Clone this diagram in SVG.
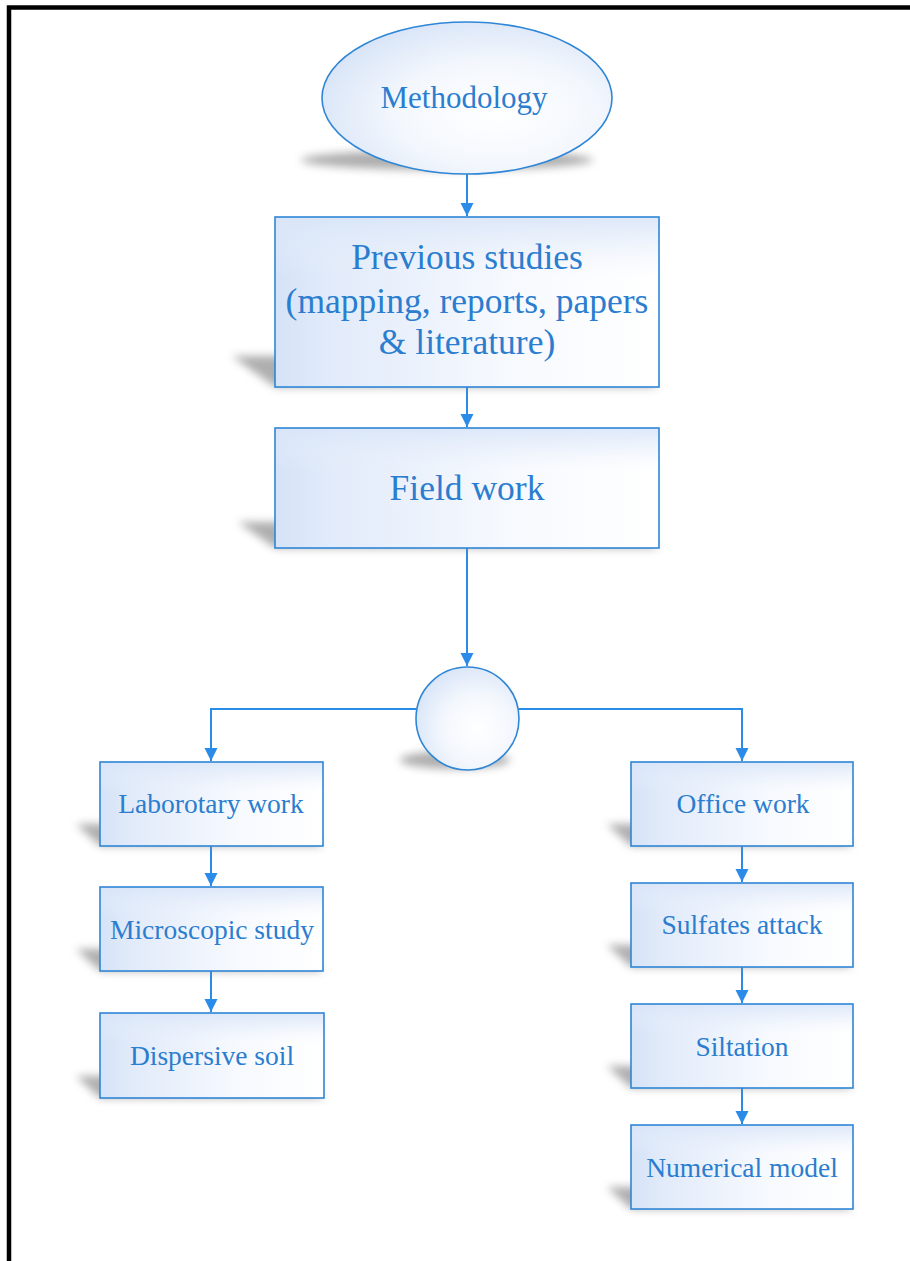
<svg xmlns="http://www.w3.org/2000/svg" width="910" height="1261" viewBox="0 0 910 1261">
<style>
.box{stroke:#2f86d6;stroke-width:1.6;}
.gh{fill:url(#gh);}
.gv{fill:url(#gv);}
.sh{fill:#8c8c8c;opacity:0.7;filter:url(#blur);}
.t{font-family:"Liberation Serif","Times New Roman",serif;fill:#2a7dcf;text-anchor:middle;}
.big{font-size:35.5px;}
.mid{font-size:31px;}
.sm{font-size:27.5px;}
.con{fill:none;stroke:#2b8be8;stroke-width:2;marker-end:url(#arr);}
</style>
<defs>
<linearGradient id="gh" x1="0" y1="0" x2="1" y2="0">
<stop offset="0" stop-color="#d5e3f7"/>
<stop offset="0.15" stop-color="#e2ebfa"/>
<stop offset="0.6" stop-color="#f6f9fe"/>
<stop offset="1" stop-color="#ffffff"/>
</linearGradient>
<linearGradient id="gv" x1="0" y1="0" x2="0" y2="1">
<stop offset="0" stop-color="#d9e5f8" stop-opacity="0.9"/>
<stop offset="0.35" stop-color="#e9f0fb" stop-opacity="0"/>
</linearGradient>
<radialGradient id="gr" cx="0.6" cy="0.6" r="0.7">
<stop offset="0" stop-color="#ffffff"/>
<stop offset="0.5" stop-color="#f3f7fd"/>
<stop offset="1" stop-color="#d3e1f6"/>
</radialGradient>
<filter id="blur" x="-20%" y="-60%" width="140%" height="220%">
<feGaussianBlur stdDeviation="4.5"/>
</filter>
<marker id="arr" markerUnits="userSpaceOnUse" markerWidth="14" markerHeight="14" refX="13" refY="6.5" orient="auto">
<path d="M0,0 L13,6.5 L0,13 z" fill="#2b8be8"/>
</marker>
</defs>

<path d="M9,1261 V7.5 H910" fill="none" stroke="#000" stroke-width="4.5"/>

<g id="connectors">
<line class="con" x1="467" y1="174" x2="467" y2="216"/>
<line class="con" x1="467" y1="387" x2="467" y2="427"/>
<line class="con" x1="467" y1="548" x2="467" y2="666"/>
<polyline class="con" points="416,709 211,709 211,761"/>
<polyline class="con" points="519,709 742,709 742,761"/>
<line class="con" x1="211" y1="846" x2="211" y2="886"/>
<line class="con" x1="211" y1="971" x2="211" y2="1012"/>
<line class="con" x1="742" y1="846" x2="742" y2="882"/>
<line class="con" x1="742" y1="967" x2="742" y2="1003"/>
<line class="con" x1="742" y1="1088" x2="742" y2="1124"/>
</g>

<g id="methodology">
<ellipse class="sh" cx="447" cy="160" rx="146" ry="10"/>
<ellipse cx="467" cy="98" rx="145" ry="76" fill="url(#gr)" class="box"/>
<text class="t mid" x="464" y="108">Methodology</text>
</g>

<g id="previous-studies">
<polygon class="sh" points="232,356 614,356 659,387 275,387"/>
<rect x="275" y="217" width="384" height="170" class="gh"/>
<rect x="275" y="217" width="384" height="170" class="gv"/>
<rect x="275" y="217" width="384" height="170" fill="none" class="box"/>
<text class="t big" x="467" y="269">Previous studies</text>
<text class="t big" x="467" y="313">(mapping, reports, papers</text>
<text class="t big" x="467" y="354">&amp; literature)</text>
</g>

<g id="field-work">
<polygon class="sh" points="238,522 622,522 659,548 275,548"/>
<rect x="275" y="428" width="384" height="120" class="gh"/>
<rect x="275" y="428" width="384" height="120" class="gv"/>
<rect x="275" y="428" width="384" height="120" fill="none" class="box"/>
<text class="t big" x="467" y="500">Field work</text>
</g>

<g id="junction">
<ellipse class="sh" cx="455" cy="760" rx="55" ry="9"/>
<circle cx="467.5" cy="718.5" r="51.5" fill="url(#gr)" class="box"/>
</g>

<g id="laboratory-work">
<polygon class="sh" points="76,824 301,824 323,846 100,846"/>
<rect x="100" y="762" width="223" height="84" class="gh"/>
<rect x="100" y="762" width="223" height="84" class="gv"/>
<rect x="100" y="762" width="223" height="84" fill="none" class="box"/>
<text class="t sm" x="211" y="813">Laborotary work</text>
</g>

<g id="microscopic-study">
<polygon class="sh" points="76,949 301,949 323,971 100,971"/>
<rect x="100" y="887" width="223" height="84" class="gh"/>
<rect x="100" y="887" width="223" height="84" class="gv"/>
<rect x="100" y="887" width="223" height="84" fill="none" class="box"/>
<text class="t sm" x="212" y="939">Microscopic study</text>
</g>

<g id="dispersive-soil">
<polygon class="sh" points="76,1076 302,1076 324,1098 100,1098"/>
<rect x="100" y="1013" width="224" height="85" class="gh"/>
<rect x="100" y="1013" width="224" height="85" class="gv"/>
<rect x="100" y="1013" width="224" height="85" fill="none" class="box"/>
<text class="t sm" x="212" y="1065">Dispersive soil</text>
</g>

<g id="office-work">
<polygon class="sh" points="607,824 831,824 853,846 631,846"/>
<rect x="631" y="762" width="222" height="84" class="gh"/>
<rect x="631" y="762" width="222" height="84" class="gv"/>
<rect x="631" y="762" width="222" height="84" fill="none" class="box"/>
<text class="t sm" x="743" y="813">Office work</text>
</g>

<g id="sulfates-attack">
<polygon class="sh" points="607,945 831,945 853,967 631,967"/>
<rect x="631" y="883" width="222" height="84" class="gh"/>
<rect x="631" y="883" width="222" height="84" class="gv"/>
<rect x="631" y="883" width="222" height="84" fill="none" class="box"/>
<text class="t sm" x="742" y="934">Sulfates attack</text>
</g>

<g id="siltation">
<polygon class="sh" points="607,1066 831,1066 853,1088 631,1088"/>
<rect x="631" y="1004" width="222" height="84" class="gh"/>
<rect x="631" y="1004" width="222" height="84" class="gv"/>
<rect x="631" y="1004" width="222" height="84" fill="none" class="box"/>
<text class="t sm" x="742" y="1056">Siltation</text>
</g>

<g id="numerical-model">
<polygon class="sh" points="607,1187 831,1187 853,1209 631,1209"/>
<rect x="631" y="1125" width="222" height="84" class="gh"/>
<rect x="631" y="1125" width="222" height="84" class="gv"/>
<rect x="631" y="1125" width="222" height="84" fill="none" class="box"/>
<text class="t sm" x="742" y="1177">Numerical model</text>
</g>
</svg>
